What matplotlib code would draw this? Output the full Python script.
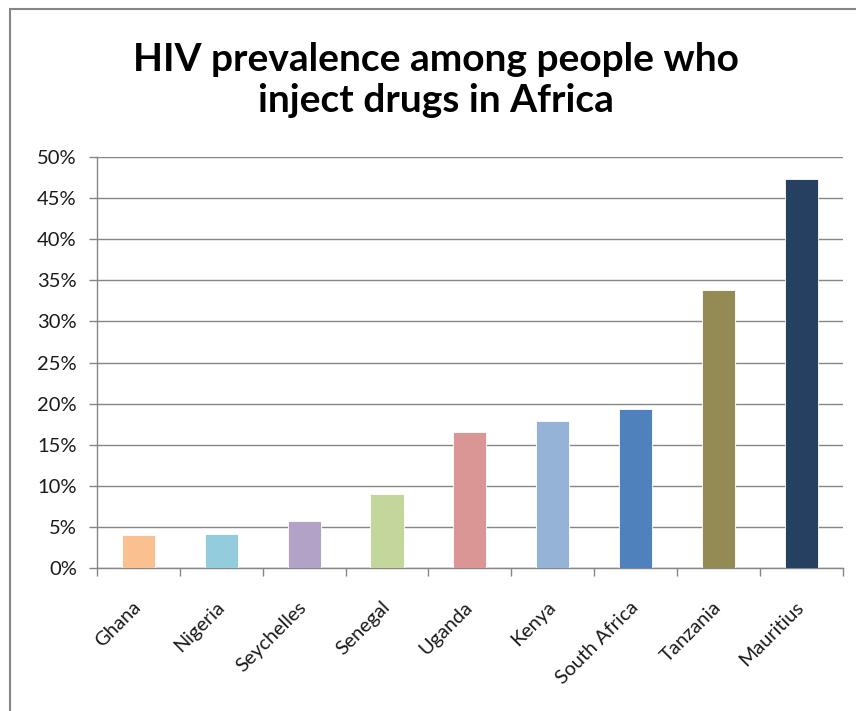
import matplotlib
matplotlib.use('Agg')
import matplotlib.pyplot as plt
from matplotlib.patches import Rectangle
from matplotlib.ticker import PercentFormatter, FixedLocator

plt.rcParams['font.family'] = 'Lato'

countries = ['Ghana', 'Nigeria', 'Seychelles', 'Senegal', 'Uganda',
             'Kenya', 'South Africa', 'Tanzania', 'Mauritius']
prevalence = [4.0, 4.2, 5.8, 9.0, 16.6, 17.9, 19.3, 33.8, 47.3]
bar_colors = ['#FAC090', '#93CDDD', '#B3A2C7', '#C3D69B', '#D99694',
              '#95B3D7', '#4F81BD', '#948A54', '#254061']

GREY = '#868686'

fig = plt.figure(figsize=(8.56, 7.11), dpi=100)
fig.patch.set_facecolor('white')

# outer chart frame (right/bottom run off the image)
fig.patches.append(Rectangle((10 / 856, -0.05), 1.2, 0.05 + 1 - 9 / 711,
                             transform=fig.transFigure, fill=False,
                             edgecolor=GREY, linewidth=1.5))

ax = fig.add_axes([97 / 856, 1 - 568.3 / 711, (842.7 - 97) / 856, (568.3 - 156.7) / 711])

xs = list(range(len(countries)))
ax.bar(xs, prevalence, width=0.4, color=bar_colors, edgecolor='white',
       linewidth=0.6, zorder=3)

ax.set_xlim(-0.5, len(countries) - 0.5)
ax.set_ylim(0, 50)
ax.set_yticks(range(0, 51, 5))
ax.yaxis.set_major_formatter(PercentFormatter(decimals=0))
ax.yaxis.grid(True, color=GREY, linewidth=1.0, zorder=0)

ax.set_xticks(xs)
ax.set_xticklabels(countries, rotation=45, ha='right', va='center',
                   rotation_mode='anchor', fontsize=14.3, color='#1a1a1a')
ax.tick_params(axis='x', which='major', length=0, pad=26)
ax.xaxis.set_minor_locator(FixedLocator([i - 0.5 for i in range(len(countries) + 1)]))
ax.tick_params(axis='x', which='minor', length=5.5, width=1, color=GREY, direction='out')
ax.tick_params(axis='y', length=5.5, width=1, color=GREY, labelsize=14.5,
               labelcolor='#1a1a1a', pad=9)

for side in ['top', 'right']:
    ax.spines[side].set_visible(False)
for side in ['left', 'bottom']:
    ax.spines[side].set_color(GREY)
    ax.spines[side].set_linewidth(1.0)

fig.text(436 / 856, 1 - 80 / 711, 'HIV prevalence among people who\ninject drugs in Africa',
         ha='center', va='center', fontsize=28, fontweight='bold',
         linespacing=1.2, color='black')

fig.savefig('out.png', dpi=100, facecolor=fig.get_facecolor())
